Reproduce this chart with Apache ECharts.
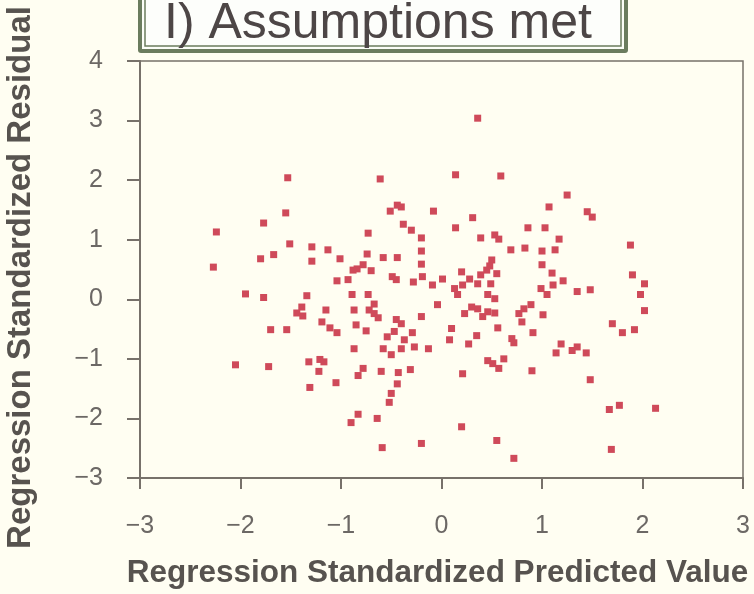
<!DOCTYPE html>
<html>
<head>
<meta charset="utf-8">
<script src="https://cdn.jsdelivr.net/npm/echarts@6/dist/echarts.min.js"></script>
<style>
  html, body { margin: 0; padding: 0; background: #fffef2; }
  #chart { width: 754px; height: 594px; }
</style>
</head>
<body>
<div id="chart"></div>
<script>
// values
const predicted = [
  -1.53, -0.61, -0.44, -0.40, -0.51, -1.55, -1.77, -2.24, -0.73, -0.38,
  -0.30, -0.20, -1.51, -1.29, -1.13, -1.67, -1.80, -1.29, -1.01, -0.74,
  -0.58, -0.44, -0.20, -0.20, -2.27, -0.88, -0.84, -0.78, -0.70, -0.49,
  -0.45, -0.28, -0.19, -1.04, -0.93, -1.95, -1.77, -1.34, -0.89, -0.73,
  -0.67, -1.39, -1.44, -1.38, -1.15, -0.87, -0.72, -0.67, -0.63, -1.19,
  -1.11, -1.04, -1.70, -1.54, -0.85, -0.75, -0.45, -0.40, -0.20, -0.54,
  -0.47, -0.37, -0.29, -0.87, -0.58, -0.50, -0.40, -0.27, -0.13, -2.05,
  -1.72, -1.32, -1.21, -1.17, -1.22, -1.31, -1.05, -0.83, -0.78, -0.60,
  -0.43, -0.44, -0.50, -0.52, -0.31, -0.90, -0.83, -0.64, -0.59, -0.20,
  0.36, 0.14, 0.59, -0.08, 0.31, 0.14, 0.39, 0.53, 0.57, 0.69,
  0.83, 0.50, 0.48, 0.45, 0.55, 0.49, 0.39, 0.20, 0.01, -0.09,
  0.28, 0.36, 0.13, 0.21, 1.25, 1.07, 1.45, 1.50, 0.86, 1.03,
  1.17, 1.00, 1.13, 1.88, 1.00, 1.10, 1.21, 1.11, 0.99, 1.35,
  1.48, 1.90, 2.02, 0.16, 0.46, 0.53, -0.04, 0.23, 0.30, 0.36,
  0.41, 0.46, 0.53, 0.10, 0.08, 0.27, 0.35, 0.56, 0.21, 0.46,
  0.51, 0.57, 0.62, 0.70, 0.72, 0.77, 0.82, 0.89, 0.80, 1.05,
  1.01, 0.91, 0.90, 1.19, 1.14, 1.30, 1.35, 1.44, 1.48, 1.98,
  2.02, 1.70, 1.80, 1.92, 1.67, 1.77, 2.13, 0.20, 0.55, 0.72,
  1.69
]
const residual = [
  2.04, 2.02, 1.58, 1.55, 1.48, 1.45, 1.28, 1.13, 1.11, 1.26,
  1.16, 1.03, 0.93, 0.88, 0.83, 0.75, 0.68, 0.64, 0.68, 0.76,
  0.70, 0.70, 0.81, 0.59, 0.54, 0.49, 0.51, 0.58, 0.48, 0.38,
  0.33, 0.29, 0.38, 0.31, 0.33, 0.09, 0.03, 0.06, 0.08, 0.08,
  -0.08, -0.13, -0.23, -0.28, -0.18, -0.18, -0.18, -0.24, -0.31, -0.38,
  -0.48, -0.56, -0.51, -0.51, -0.43, -0.53, -0.34, -0.41, -0.29, -0.63,
  -0.54, -0.68, -0.56, -0.83, -0.83, -0.93, -0.83, -0.80, -0.83, -1.10,
  -1.13, -1.05, -1.01, -1.05, -1.21, -1.48, -1.40, -1.28, -1.16, -1.21,
  -1.23, -1.42, -1.58, -1.73, -1.18, -2.07, -1.93, -2.00, -2.49, -2.42,
  3.04, 2.09, 2.07, 1.48, 1.37, 1.20, 1.03, 1.08, 1.01, 0.83,
  0.86, 0.66, 0.56, 0.49, 0.43, 0.26, 0.41, 0.46, 0.34, 0.24,
  0.34, 0.26, 0.18, 0.24, 1.75, 1.55, 1.47, 1.38, 1.20, 1.20,
  1.01, 0.81, 0.83, 0.91, 0.58, 0.44, 0.31, 0.24, 0.18, 0.13,
  0.16, 0.41, 0.26, 0.08, 0.08, 0.01, -0.09, -0.24, -0.13, -0.16,
  -0.29, -0.21, -0.23, -0.49, -0.68, -0.75, -0.61, -0.48, -1.25, -1.03,
  -1.08, -1.16, -1.00, -0.66, -0.73, -0.24, -0.16, -0.09, -0.38, 0.08,
  -0.26, -0.56, -1.20, -0.75, -0.90, -0.86, -0.80, -0.90, -1.35, 0.08,
  -0.19, -0.41, -0.56, -0.51, -1.85, -1.78, -1.83, -2.14, -2.37, -2.67,
  -2.52
]
const xRange = [-3, 3]
const yRange = [-3, 4]
const titleText = 'I) Assumptions met'

let axisColor = '#77716a'
let nameColor = '#57534f'
let labelColor = '#6c6865'
let minus = v => String(v).replace('-', '\u2212')

let points = []
for (let i = 0; i < predicted.length; i++) {
  points.push([predicted[i], residual[i]])
}

let myChart = echarts.init(document.getElementById('chart'))
let option = {
  backgroundColor: '#fffef2',
  animation: false,
  grid: {
    left: 140,
    right: 11,
    top: 61,
    bottom: 116,
    containLabel: false,
    outerBoundsMode: 'none',
    show: true,
    borderColor: axisColor,
    borderWidth: 1.5,
    backgroundColor: 'transparent'
  },
  xAxis: {
    type: 'value',
    min: xRange[0],
    max: xRange[1],
    interval: 1,
    name: 'Regression Standardized Predicted Value',
    nameLocation: 'middle',
    nameGap: 79,
    nameTextStyle: {
      fontFamily: 'Liberation Sans',
      fontWeight: 'bold',
      fontSize: 31.5,
      color: nameColor,
      padding: [0, 8, 0, 0]
    },
    axisLine: { onZero: false, lineStyle: { color: axisColor, width: 2 } },
    axisTick: { inside: false, length: 11, lineStyle: { color: axisColor, width: 2 } },
    axisLabel: {
      margin: 36,
      fontFamily: 'Liberation Sans',
      fontSize: 25,
      color: labelColor,
      formatter: minus
    },
    splitLine: { show: false }
  },
  yAxis: {
    type: 'value',
    min: yRange[0],
    max: yRange[1],
    interval: 1,
    name: 'Regression Standardized Residual',
    nameLocation: 'middle',
    nameGap: 103,
    nameTextStyle: {
      fontFamily: 'Liberation Sans',
      fontWeight: 'bold',
      fontSize: 33,
      color: nameColor,
      padding: [0, 16, 0, 0]
    },
    axisLine: { onZero: false, lineStyle: { color: axisColor, width: 2 } },
    axisTick: { inside: false, length: 13, lineStyle: { color: axisColor, width: 2 } },
    axisLabel: {
      margin: 37,
      fontFamily: 'Liberation Sans',
      fontSize: 25,
      color: labelColor,
      formatter: minus
    },
    splitLine: { show: false }
  },
  graphic: [
    {
      type: 'rect',
      shape: { x: 138, y: -10, width: 490, height: 63, r: 3 },
      style: { fill: '#6b7c5e' }
    },
    {
      type: 'rect',
      shape: { x: 142, y: -10, width: 482, height: 59 },
      style: { fill: '#fbfdf7' }
    },
    {
      type: 'rect',
      shape: { x: 145, y: -10, width: 476, height: 56 },
      style: { fill: '#fdfefb', stroke: '#6b7c5e', lineWidth: 1.5 }
    },
    {
      type: 'text',
      left: 164,
      top: -1,
      style: {
        text: titleText,
        fontFamily: 'Liberation Sans',
        fontSize: 50,
        fill: '#4d4646'
      }
    }
  ],
  series: [{
    type: 'scatter',
    symbol: 'rect',
    symbolSize: 7,
    itemStyle: { color: '#cf4a5a', opacity: 1 },
    data: points
  }]
}
myChart.setOption(option)
</script>
</body>
</html>
